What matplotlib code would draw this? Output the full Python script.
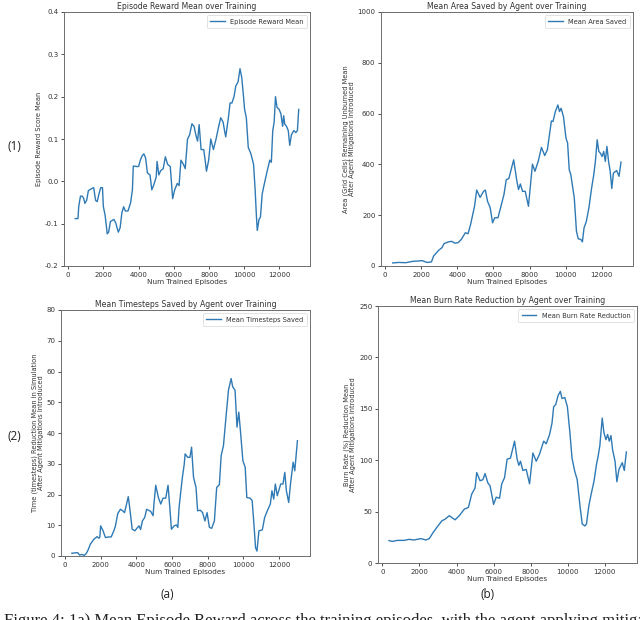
import matplotlib
matplotlib.use("Agg")
import matplotlib.pyplot as plt

# ---------------- data ----------------
reward_x = [400, 560, 600, 700, 800, 880, 950, 1050, 1150, 1300, 1450, 1560, 1650, 1750, 1850, 1950,
            2000, 2100, 2220, 2300, 2400, 2600, 2700, 2850, 2950, 3050, 3150, 3250, 3400, 3550, 3650,
            3700, 3900, 4000, 4100, 4200, 4300, 4400, 4500, 4650, 4750, 4850, 5000, 5050, 5150, 5250,
            5400, 5520, 5650, 5800, 5935, 6050, 6200, 6300, 6405, 6550, 6650, 6780, 6900, 7030, 7150,
            7250, 7350, 7440, 7550, 7700, 7780, 7855, 7980, 8100, 8250, 8400, 8550, 8665, 8800, 8880,
            8950, 9100, 9195, 9300, 9420, 9520, 9650, 9760, 9860, 9960, 10020, 10120, 10230, 10380,
            10530, 10620, 10690, 10740, 10840, 10920, 11020, 11120, 11280, 11450, 11540, 11620, 11700,
            11775, 11860, 11980, 12080, 12180, 12240, 12300, 12400, 12500, 12585, 12680, 12820, 12930,
            13020, 13094]
reward_y = [-0.088, -0.088, -0.06, -0.035, -0.035, -0.04, -0.052, -0.045, -0.022, -0.018, -0.015,
            -0.045, -0.048, -0.03, -0.015, -0.015, -0.06, -0.08, -0.124, -0.12, -0.095, -0.09, -0.098,
            -0.12, -0.11, -0.075, -0.06, -0.07, -0.07, -0.05, -0.02, 0.036, 0.035, 0.035, 0.05, 0.06,
            0.065, 0.055, 0.02, 0.015, -0.02, -0.01, 0.01, 0.047, 0.015, 0.025, 0.03, 0.058, 0.04,
            0.035, -0.041, -0.02, -0.005, -0.01, 0.05, 0.04, 0.03, 0.1, 0.11, 0.136, 0.13, 0.11, 0.095,
            0.134, 0.075, 0.075, 0.05, 0.024, 0.05, 0.1, 0.075, 0.1, 0.13, 0.15, 0.14, 0.12, 0.105,
            0.15, 0.185, 0.185, 0.2, 0.225, 0.235, 0.266, 0.245, 0.2, 0.17, 0.15, 0.08, 0.065, 0.04,
            -0.02, -0.08, -0.116, -0.09, -0.085, -0.03, -0.01, 0.02, 0.05, 0.045, 0.12, 0.14, 0.2,
            0.175, 0.17, 0.16, 0.13, 0.155, 0.135, 0.13, 0.12, 0.085, 0.11, 0.12, 0.115, 0.12, 0.17]

area_x = [417, 725, 1140, 1500, 2050, 2320, 2560, 2680, 2950, 3140, 3260, 3500, 3680, 3860, 4040,
          4220, 4440, 4590, 4730, 4950, 5070, 5260, 5450, 5550, 5670, 5820, 5950, 6070, 6250, 6440,
          6580, 6710, 6850, 7120, 7300, 7390, 7490, 7610, 7760, 7940, 8160, 8300, 8480, 8660, 8840,
          8990, 9210, 9300, 9430, 9570, 9660, 9750, 9880, 10020, 10110, 10200, 10290, 10480, 10600,
          10700, 10840, 10930, 11020, 11150, 11290, 11440, 11560, 11650, 11750, 11840, 11930, 12020,
          12110, 12200, 12290, 12380, 12470, 12560, 12650, 12830, 12960, 13070]
area_y = [12, 14, 13, 18, 21, 14, 16, 39, 61, 72, 88, 95, 97, 90, 92, 105, 131, 127, 163, 235, 299,
          270, 294, 299, 255, 229, 170, 190, 190, 242, 281, 340, 344, 418, 333, 301, 323, 294, 294,
          235, 401, 373, 412, 467, 435, 458, 571, 569, 608, 634, 608, 621, 588, 503, 484, 379, 359,
          268, 137, 107, 105, 95, 150, 176, 229, 307, 359, 412, 497, 451, 444, 431, 451, 412, 471,
          412, 373, 305, 366, 376, 353, 409]

time_x = [376, 700, 810, 940, 1070, 1180, 1280, 1410, 1600, 1790, 1880, 1940, 1990, 2110, 2260, 2450,
          2580, 2730, 2820, 2950, 3100, 3230, 3330, 3540, 3630, 3760, 3910, 4020, 4140, 4230, 4330,
          4460, 4570, 4800, 4930, 4980, 5080, 5230, 5360, 5490, 5640, 5770, 5870, 5960, 6110, 6240,
          6320, 6390, 6490, 6580, 6680, 6730, 6870, 7000, 7090, 7200, 7340, 7430, 7580, 7710, 7840,
          7960, 8090, 8220, 8370, 8500, 8650, 8750, 8880, 9030, 9160, 9310, 9400, 9530, 9640, 9740,
          9830, 9970, 10100, 10190, 10380, 10490, 10590, 10680, 10760, 10870, 11060, 11190, 11340,
          11510, 11600, 11700, 11790, 11900, 12090, 12220, 12320, 12410, 12540, 12640, 12790, 12880,
          13030]
time_y = [0.9, 1.1, 0.3, 0.5, 0.2, 0.8, 1.9, 3.8, 5.4, 6.3, 5.8, 6.0, 9.8, 8.4, 6.0, 6.2, 6.2, 8.2,
          9.8, 13.8, 15.2, 14.7, 14.1, 19.3, 15.2, 8.7, 8.2, 9.0, 9.8, 8.6, 11.4, 12.5, 15.2, 14.5,
          13.1, 16.9, 23.0, 19.0, 16.9, 18.8, 18.8, 23.0, 15.8, 8.7, 9.8, 10.1, 9.3, 15.8, 21.2, 25.8,
          29.9, 33.2, 32.1, 32.1, 35.4, 25.6, 22.3, 14.7, 14.9, 14.1, 11.4, 14.1, 9.3, 9.0, 11.4,
          22.3, 23.2, 32.6, 35.9, 45.7, 53.9, 57.7, 55.0, 53.9, 41.9, 46.8, 40.8, 31.0, 28.8, 19.0,
          18.8, 18.0, 10.3, 2.7, 1.6, 8.2, 8.5, 12.5, 14.7, 16.9, 21.2, 18.5, 23.4, 19.6, 23.4, 23.4,
          27.2, 21.2, 17.4, 23.4, 30.5, 27.7, 37.5]

burn_x = [360, 540, 810, 1170, 1440, 1710, 2080, 2350, 2530, 2710, 2940, 3210, 3390, 3610, 3920, 4150,
          4420, 4640, 4820, 5000, 5090, 5270, 5420, 5540, 5690, 5810, 6000, 6140, 6320, 6440, 6590,
          6730, 6910, 7130, 7270, 7360, 7450, 7580, 7760, 7940, 8120, 8300, 8480, 8700, 8840, 9020,
          9150, 9240, 9350, 9480, 9600, 9690, 9840, 9980, 10110, 10230, 10380, 10510, 10650, 10780,
          10920, 11010, 11140, 11280, 11420, 11550, 11640, 11730, 11860, 11950, 12060, 12150, 12240,
          12330, 12420, 12550, 12650, 12760, 12940, 13050, 13160]
burn_y = [21.8, 21.0, 22.0, 22.0, 23.0, 22.4, 23.7, 22.4, 23.7, 28.9, 34.7, 41.0, 42.7, 46.0, 42.0,
          46.0, 52.4, 54.0, 67.0, 73.0, 88.0, 80.0, 81.0, 87.0, 78.0, 75.0, 57.0, 64.0, 63.0, 77.0,
          83.0, 101.0, 102.0, 118.5, 101.0, 95.0, 99.0, 90.0, 91.0, 77.0, 107.0, 99.0, 106.0, 118.5,
          116.0, 125.0, 136.0, 152.0, 154.0, 163.0, 167.0, 160.0, 161.0, 152.0, 128.0, 102.0, 89.0,
          81.0, 57.0, 38.0, 36.0, 38.0, 56.0, 68.5, 80.0, 96.0, 104.0, 114.0, 141.0, 127.0, 120.0,
          125.0, 118.5, 124.0, 110.0, 99.0, 79.0, 91.0, 97.6, 90.0, 108.0]

x_ticks = [0, 2000, 4000, 6000, 8000, 10000, 12000]

panels = [
    dict(x=reward_x, y=reward_y, title="Episode Reward Mean over Training",
         ylabel="Episode Reward Score Mean", legend="Episode Reward Mean",
         ylim=(-0.2, 0.4), yticks=[-0.2, -0.1, 0.0, 0.1, 0.2, 0.3, 0.4],
         rect=(64, 12, 310, 266)),
    dict(x=area_x, y=area_y, title="Mean Area Saved by Agent over Training",
         ylabel="Area (Grid Cells) Remaining Unburned Mean\nAfter Agent Mitigations Introduced",
         legend="Mean Area Saved", ylim=(0, 1000), yticks=[0, 200, 400, 600, 800, 1000],
         rect=(381, 12, 633, 266)),
    dict(x=time_x, y=time_y, title="Mean Timesteps Saved by Agent over Training",
         ylabel="Time (timesteps) Reduction Mean in Simulation\nAfter Agent Mitigations Introduced",
         legend="Mean Timesteps Saved", ylim=(0, 80), yticks=[0, 10, 20, 30, 40, 50, 60, 70, 80],
         rect=(61, 310, 310, 556)),
    dict(x=burn_x, y=burn_y, title="Mean Burn Rate Reduction by Agent over Training",
         ylabel="Burn Rate (%) Reduction Mean\nAfter Agent Mitigations Introduced",
         legend="Mean Burn Rate Reduction", ylim=(0, 250), yticks=[0, 50, 100, 150, 200, 250],
         rect=(378, 306, 637, 563)),
]

W, H = 640, 620
fig = plt.figure(figsize=(W / 100, H / 100), dpi=100)
fig.patch.set_facecolor("white")

spine_col = "#6e6e6e"
text_col = "#333333"

for p in panels:
    l, t, r, b = p["rect"]
    ax = fig.add_axes([l / W, 1 - b / H, (r - l) / W, (b - t) / H])
    ax.plot(p["x"], p["y"], color="#2f7ab5", lw=1.0, label=p["legend"])
    ax.set_ylim(*p["ylim"])
    ax.set_yticks(p["yticks"])
    ax.set_xticks(x_ticks)
    ax.set_xlim(-0.05 * 12700 + 400, 13100 + 0.05 * 12700)
    if p["ylim"][0] < 0:
        ax.set_yticklabels([f"{v:.1f}" for v in p["yticks"]])
    ax.tick_params(labelsize=5, colors=text_col, length=2.5, width=0.6, pad=1.5)
    for s in ax.spines.values():
        s.set_color(spine_col)
        s.set_linewidth(0.7)
    ax.set_title(p["title"], fontsize=5.6, color=text_col, pad=2.5)
    ax.set_xlabel("Num Trained Episodes", fontsize=5.2, color=text_col, labelpad=1)
    ax.set_ylabel(p["ylabel"], fontsize=4.8, color=text_col, labelpad=2, linespacing=1.0)
    leg = ax.legend(loc="upper right", fontsize=4.8, frameon=True, fancybox=True,
                    handlelength=2.2, borderpad=0.5, labelcolor=text_col)
    leg.get_frame().set_linewidth(0.5)
    leg.get_frame().set_edgecolor("#cccccc")

lab_font = dict(family=["Open Sans", "DejaVu Sans"], fontsize=8.5, color="#222222",
                ha="center", va="center")
fig.text(14 / W, 1 - 146 / H, "(1)", **lab_font)
fig.text(14 / W, 1 - 437 / H, "(2)", **lab_font)
fig.text(167 / W, 1 - 595 / H, "(a)", **lab_font)
fig.text(488 / W, 1 - 595 / H, "(b)", **lab_font)

fig.text(4 / W, -5 / H,
         "Figure 4: 1a) Mean Episode Reward across the training episodes, with the agent applying mitigations",
         family=["Liberation Serif", "DejaVu Serif"], fontsize=12, color="#222222",
         ha="left", va="baseline")

fig.savefig("out.png", dpi=100)
